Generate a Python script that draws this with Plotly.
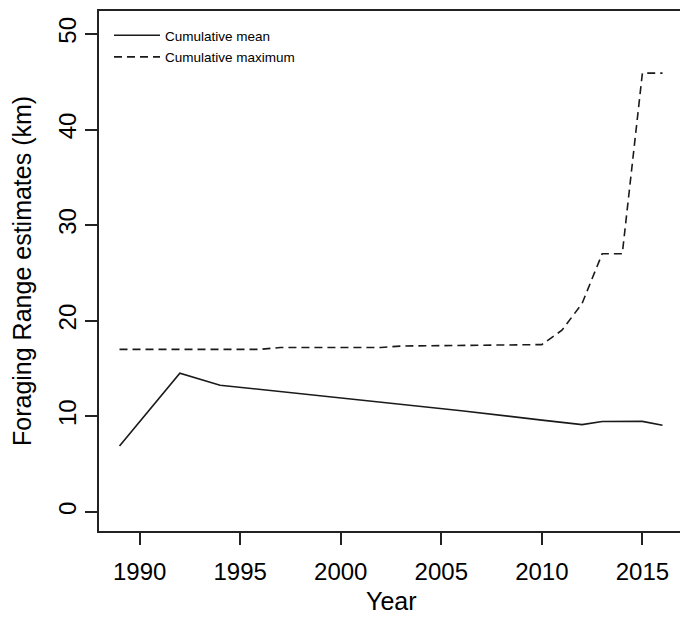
import plotly.graph_objects as go

# Data
years_mean = [1989, 1992, 1994, 1996, 2000, 2006, 2010, 2012, 2013, 2015, 2016]
cum_mean = [6.9, 14.5, 13.25, 12.8, 11.9, 10.58, 9.6, 9.13, 9.45, 9.47, 9.06]

years_max = [1989, 1996, 1997, 2002, 2003, 2010, 2011, 2012, 2013, 2014, 2015, 2016]
cum_max = [17.0, 17.0, 17.2, 17.2, 17.35, 17.5, 19.0, 21.8, 27.0, 27.0, 45.9, 45.9]

x_ticks = [1990, 1995, 2000, 2005, 2010, 2015]
y_ticks = [0, 10, 20, 30, 40, 50]

FONT = "Liberation Sans, Arial, sans-serif"

fig = go.Figure()
fig.add_trace(go.Scatter(
    x=years_mean, y=cum_mean, mode="lines", name="Cumulative mean",
    legendgroup="a",
    line=dict(color="#1a1a1a", width=1.6)))
fig.add_trace(go.Scatter(
    x=years_max, y=cum_max, mode="lines", name="Cumulative maximum",
    legendgroup="b",
    line=dict(color="#1a1a1a", width=1.6, dash="8px,5px")))

fig.update_layout(
    width=680, height=617,
    margin=dict(l=99, r=0, t=11, b=86),
    paper_bgcolor="white", plot_bgcolor="white",
    font=dict(family=FONT, color="black"),
    showlegend=True,
    legend=dict(x=10 / 581, y=1 - 9 / 520, xanchor="left", yanchor="top",
                bgcolor="rgba(0,0,0,0)", borderwidth=0,
                font=dict(size=13.5, family=FONT), itemwidth=46,
                tracegroupgap=1),
    xaxis=dict(range=[1987.98, 2016.87], tickvals=x_ticks,
               ticktext=[str(v) for v in x_ticks],
               showgrid=False, zeroline=False, showline=True,
               linecolor="#222", linewidth=1.5, mirror=True,
               ticks="outside", ticklen=12, tickcolor="#222", tickwidth=1.5,
               ticklabelstandoff=6,
               tickfont=dict(size=24, family=FONT)),
    yaxis=dict(range=[-2.0, 52.4], tickvals=y_ticks,
               ticktext=[str(v) for v in y_ticks],
               showgrid=False, zeroline=False, showline=True,
               linecolor="#222", linewidth=1.5, mirror=False,
               ticks="outside", ticklen=12, tickcolor="#222", tickwidth=1.5,
               tickangle=-90,
               tickfont=dict(size=24, family=FONT)),
    annotations=[
        dict(text="Year", xref="paper", yref="paper", x=(391 - 99) / 581,
             y=-(601 - 531) / 520, xanchor="center", yanchor="middle",
             showarrow=False, font=dict(size=25, family=FONT)),
        dict(text="Foraging Range estimates (km)", xref="paper", yref="paper",
             x=-(99 - 22) / 581, y=0.5, xanchor="center", yanchor="middle",
             textangle=-90, showarrow=False, font=dict(size=25, family=FONT)),
    ],
)

fig.write_html("out.html",
               config={"displayModeBar": False},
               post_script="document.body.style.margin='0';document.body.style.overflow='hidden';")
